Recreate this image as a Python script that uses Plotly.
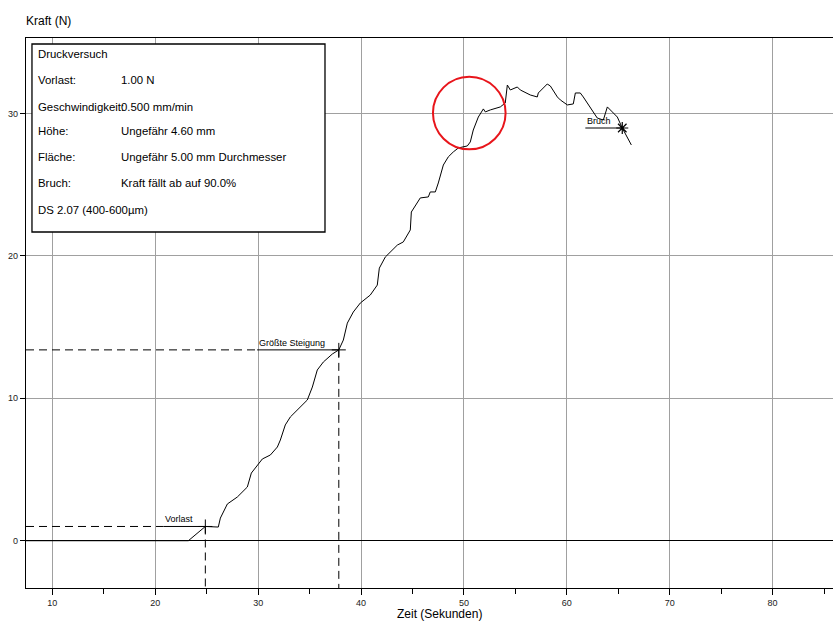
import plotly.graph_objects as go

# ---- data ----
zeit = [7.0, 23.22, 24.87, 26.13, 26.33, 27.01, 27.98, 28.95, 29.34, 29.92, 30.41, 31.19,
        31.87, 32.16, 32.64, 33.13, 33.81, 34.30, 34.78, 35.27, 35.75, 36.34, 37.21, 37.84,
        38.28, 38.67, 39.25, 39.93, 40.90, 41.58, 41.78, 42.36, 42.85, 43.53, 44.11, 44.79,
        44.89, 45.57, 45.76, 46.54, 46.73, 47.22, 47.41, 47.51, 48.00, 48.48, 48.97, 49.46,
        50.33, 50.62, 50.91, 51.40, 51.89, 52.08, 52.57, 53.54, 54.02, 54.22, 54.51, 55.19,
        55.48, 56.16, 56.45, 57.13, 57.23, 58.10, 58.40, 59.08, 59.37, 60.05, 60.63, 60.83,
        61.31, 61.60, 62.28, 62.96, 63.55, 63.94, 64.42, 64.91, 65.39, 66.27]
kraft = [0.0, 0.0, 1.0, 0.96, 1.59, 2.58, 3.07, 3.77, 4.75, 5.25, 5.74, 6.02,
         6.58, 7.07, 8.13, 8.69, 9.18, 9.53, 9.88, 10.79, 11.99, 12.55, 13.11, 13.4,
         14.09, 15.28, 16.06, 16.69, 17.25, 17.95, 19.14, 19.92, 20.27, 20.76, 20.98, 21.82,
         23.08, 23.79, 24.07, 24.14, 24.49, 24.49, 24.84, 25.12, 26.38, 26.95, 27.30, 27.58,
         27.72, 28.00, 28.84, 29.75, 30.32, 30.11, 30.25, 30.46, 30.74, 32.00, 31.65, 31.86,
         31.65, 31.44, 31.30, 31.16, 31.44, 32.07, 31.93, 31.16, 30.95, 30.60, 30.67, 31.44,
         31.44, 31.16, 30.39, 29.68, 29.54, 30.46, 30.11, 29.75, 28.98, 27.79]

x_range = [7.44, 85.87]
y_range = [-3.32, 35.3]
x_ticks = [10, 20, 30, 40, 50, 60, 70, 80]
y_ticks = [0, 10, 20, 30]

vorlast_x, vorlast_y, vorlast_label_x = 24.87, 1.0, 20.8
steig_x, steig_y, steig_label_x = 37.84, 13.4, 29.9
bruch_x, bruch_y, bruch_label_x = 65.39, 28.98, 61.8
circle_cx, circle_cy, circle_rx, circle_ry = 50.52, 30.03, 3.53, 2.55

info_labels = ["Vorlast:", "Geschwindigkeit:", "Höhe:", "Fläche:", "Bruch:"]
info_values = ["1.00 N", "0.500 mm/min", "Ungefähr 4.60 mm",
               "Ungefähr 5.00 mm Durchmesser", "Kraft fällt ab auf 90.0%"]
info_title = "Druckversuch"
info_footer = "DS 2.07 (400-600µm)"

FONT = "Liberation Sans, Arial, sans-serif"
INFO_SIZE = 11.4

fig = go.Figure()

# reference lines: dashed parts
for px, py, lx in [(vorlast_x, vorlast_y, vorlast_label_x), (steig_x, steig_y, steig_label_x)]:
    fig.add_trace(go.Scatter(x=[x_range[0], lx], y=[py, py], mode="lines",
                             line=dict(color="black", width=1, dash="8px,5px"),
                             hoverinfo="skip", showlegend=False))
    fig.add_trace(go.Scatter(x=[px, px], y=[py, y_range[0]], mode="lines",
                             line=dict(color="black", width=1, dash="8px,5px"),
                             hoverinfo="skip", showlegend=False))
    fig.add_trace(go.Scatter(x=[lx, px], y=[py, py], mode="lines",
                             line=dict(color="black", width=1),
                             hoverinfo="skip", showlegend=False))
    fig.add_trace(go.Scatter(x=[px], y=[py], mode="markers",
                             marker=dict(symbol="cross-thin-open", size=10, color="black",
                                         line=dict(color="black", width=1)),
                             hoverinfo="skip", showlegend=False))

fig.add_trace(go.Scatter(x=[bruch_label_x, bruch_x], y=[bruch_y, bruch_y], mode="lines",
                         line=dict(color="black", width=1), hoverinfo="skip", showlegend=False))

# main curve
fig.add_trace(go.Scatter(x=zeit, y=kraft, mode="lines",
                         line=dict(color="black", width=1), showlegend=False))

fig.add_trace(go.Scatter(x=[bruch_x], y=[bruch_y], mode="markers",
                         marker=dict(symbol="asterisk-open", size=10, color="black",
                                     line=dict(color="black", width=1.2)),
                         hoverinfo="skip", showlegend=False))

shapes = [
    dict(type="circle", xref="x", yref="y",
         x0=circle_cx - circle_rx, x1=circle_cx + circle_rx,
         y0=circle_cy - circle_ry, y1=circle_cy + circle_ry,
         line=dict(color="#e8151b", width=2)),
    dict(type="rect", xref="paper", yref="paper", x0=0.0074, x1=0.3705, y0=0.6473, y1=0.9891,
         line=dict(color="black", width=1.3), fillcolor="white", layer="above"),
]

annotations = [
    dict(text="Kraft (N)", xref="paper", yref="paper", x=-0.002, y=1.031, xanchor="left",
         yanchor="middle", showarrow=False, font=dict(size=12, color="black", family=FONT)),
    dict(text="Zeit (Sekunden)", xref="paper", yref="paper", x=0.513, y=-0.047,
         xanchor="center", yanchor="middle", showarrow=False,
         font=dict(size=12, color="black", family=FONT)),
    dict(text="Vorlast", x=vorlast_label_x, y=vorlast_y, xanchor="left", yanchor="bottom",
         showarrow=False, font=dict(size=9, color="black", family=FONT)),
    dict(text="Größte Steigung", x=steig_label_x, y=steig_y, xanchor="left", yanchor="bottom",
         showarrow=False, font=dict(size=9, color="black", family=FONT)),
    dict(text="Bruch", x=bruch_label_x, y=bruch_y, xanchor="left", yanchor="bottom",
         showarrow=False, font=dict(size=9, color="black", family=FONT)),
]

row_y = [0.9709, 0.9236, 0.8745, 0.8309, 0.7836, 0.7364, 0.6873]
annotations.append(dict(text=info_title, xref="paper", yref="paper", x=0.0125, y=row_y[0],
                        xanchor="left", yanchor="middle", showarrow=False,
                        font=dict(size=INFO_SIZE, color="black", family=FONT)))
for i, (lab, val) in enumerate(zip(info_labels, info_values)):
    annotations.append(dict(text=lab, xref="paper", yref="paper", x=0.0125, y=row_y[i + 1],
                            xanchor="left", yanchor="middle", showarrow=False,
                            font=dict(size=INFO_SIZE, color="black", family=FONT)))
    annotations.append(dict(text=val, xref="paper", yref="paper", x=0.1155, y=row_y[i + 1],
                            xanchor="left", yanchor="middle", showarrow=False,
                            font=dict(size=INFO_SIZE, color="black", family=FONT)))
annotations.append(dict(text=info_footer, xref="paper", yref="paper", x=0.0125, y=row_y[6],
                        xanchor="left", yanchor="middle", showarrow=False,
                        font=dict(size=INFO_SIZE, color="black", family=FONT)))

fig.update_layout(
    width=833, height=622,
    margin=dict(l=26, r=0, t=38, b=34),
    paper_bgcolor="white", plot_bgcolor="white",
    font=dict(family=FONT, size=9, color="#222"),
    shapes=shapes, annotations=annotations,
    xaxis=dict(range=x_range, tickvals=x_ticks, ticks="outside", ticklen=6,
               tickcolor="black", showline=True, linecolor="black", linewidth=1.3,
               mirror=True, showgrid=True, gridcolor="#a0a0a0", gridwidth=1,
               zeroline=False, tickfont=dict(size=9, color="#222"), automargin=False,
               minor=dict(dtick=5, tick0=0, ticks="outside", ticklen=5,
                          tickcolor="black", showgrid=False)),
    yaxis=dict(range=y_range, tickvals=y_ticks, ticks="outside", ticklen=5,
               tickcolor="black", showline=True, linecolor="black", linewidth=1.3,
               showgrid=True, gridcolor="#a0a0a0", gridwidth=1, automargin=False,
               zeroline=True, zerolinecolor="black", zerolinewidth=1.3,
               tickfont=dict(size=9, color="#222")),
)

fig.write_html("out.html", config={"displayModeBar": False},
               post_script="document.body.style.margin='0';document.body.style.padding='0';")
